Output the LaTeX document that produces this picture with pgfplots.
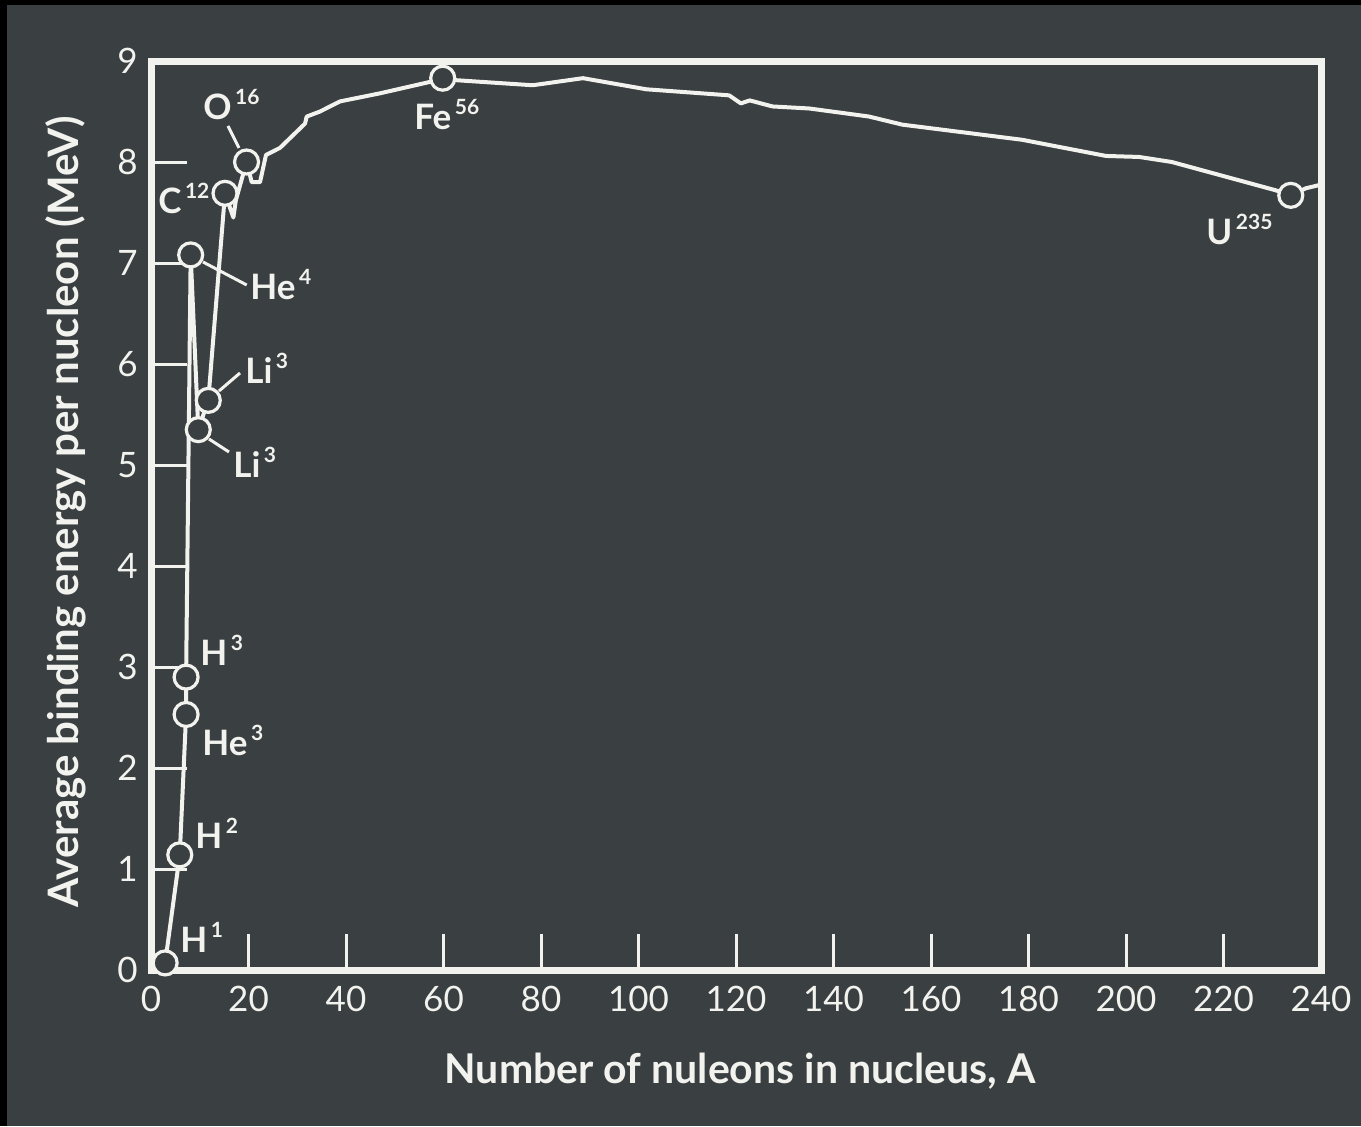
\documentclass[border=0pt]{standalone}
\usepackage{fontspec}
\setmainfont{Lato}
\usepackage{pgfplots}
\pgfplotsset{compat=1.18}
\definecolor{bg}{HTML}{3A3F41}
\definecolor{fg}{HTML}{F2F2EE}
\newcommand\el[2]{{\fontsize{17.5}{20}\selectfont\bfseries #1}\raisebox{7.5pt}{\fontsize{10.5}{12}\selectfont\bfseries\,#2}}

\pgfplotstableread{
A y
2.9 0.07
5.9 1.14
7.2 2.53
7.2 2.90
8.14 7.08
9.70 5.35
11.75 5.64
15.18 7.69
16.9 7.45
17.4 7.62
19.6 8.00
20.66 7.80
22.36 7.80
23.59 8.07
26.46 8.14
31.59 8.38
31.94 8.45
34.67 8.50
38.77 8.60
46.97 8.68
57.85 8.80
59.84 8.83
62.6 8.81
78.3 8.76
88.6 8.83
101.6 8.72
118.6 8.66
121.0 8.58
122.8 8.61
127.5 8.55
135.0 8.53
141.2 8.49
147.3 8.45
154.1 8.37
178.7 8.22
195.9 8.06
202.7 8.05
209.4 8.00
230.7 7.72
233.8 7.67
236.9 7.74
239.5 7.77
}\curve

\pgfplotstableread{
A y
2.9 0.07
5.9 1.14
7.2 2.53
7.2 2.90
8.14 7.08
9.70 5.35
11.75 5.64
15.18 7.69
19.6 8.00
59.84 8.83
233.8 7.67
}\nuclei

\begin{document}
\begin{tikzpicture}
\useasboundingbox (0,0) rectangle (680.5pt,563pt);
\fill[bg] (0,0) rectangle (680.5pt,563pt);
\fill[black] (0,0) rectangle (3.5pt,563pt);
\fill[black] (0,560.5pt) rectangle (680.5pt,563pt);
\begin{axis}[at={(75.5pt,78pt)}, anchor=south west,
  scale only axis, width=585pt, height=454.5pt,
  xmin=0, xmax=240, ymin=0, ymax=9,
  axis line style={fg, line width=3.5pt},
  tick align=inside, tick pos=left,
  major tick length=18pt,
  tick style={fg, line width=1.5pt},
  xtick={0,20,...,240}, ytick={0,1,...,9},
  ticklabel style={font=\fontsize{17.5}{20}\selectfont, text=fg},
  /pgf/number format/assume math mode=true,
  xticklabel style={inner sep=0pt, yshift=-8pt},
  yticklabel style={inner sep=0pt, xshift=-6.5pt},
  clip=false]
\addplot[fg, line width=2pt, line join=round] table {\curve};
\addplot[only marks, mark=*, mark size=6pt, mark options={draw=fg, fill=bg, line width=1.6pt}] table {\nuclei};
\end{axis}
\begin{scope}[x=0.5pt, y=-0.5pt, shift={(0pt,563pt)}]
\draw[fg, line width=1.5pt] (203,262) -- (246.7,285);
\draw[fg, line width=1.5pt] (219,391) -- (240,373);
\draw[fg, line width=1.5pt] (209,439) -- (229,452);
\draw[fg, line width=1.5pt] (239,148) -- (228,126);
\begin{scope}[every node/.style={anchor=base west, inner sep=0pt, text=fg}]
\node at (180,952) {\el{H}{1}};
\node at (195,848) {\el{H}{2}};
\node at (202,756) {\el{He}{3}};
\node at (200,666) {\el{H}{3}};
\node at (250,300) {\el{He}{4}};
\node at (245,384) {\el{Li}{3}};
\node at (233,478) {\el{Li}{3}};
\node at (158,214) {\el{C}{12}};
\node at (203,120) {\el{O}{16}};
\node at (414,130) {\el{Fe}{56}};
\node at (1206,245) {\el{U}{235}};
\end{scope}
\node[text=fg, inner sep=0pt, font=\fontsize{20.5}{24}\selectfont\bfseries] at (740,1071) {Number of nuleons in nucleus, A};
\node[text=fg, inner sep=0pt, rotate=90, font=\fontsize{21}{24}\selectfont\bfseries] at (66,512) {Average binding energy per nucleon (MeV)};
\end{scope}
\end{tikzpicture}
\end{document}
